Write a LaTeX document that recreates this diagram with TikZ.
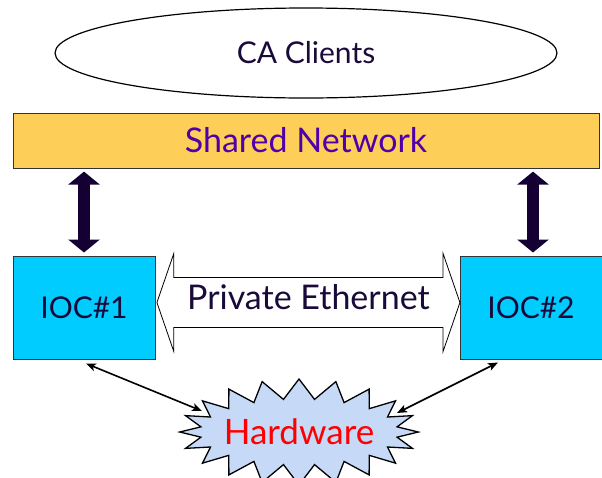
\documentclass[tikz,border=0pt]{standalone}
\usepackage{fontspec}
\setmainfont{Lato}
\usetikzlibrary{shapes,arrows,arrows.meta,positioning}
\definecolor{netfill}{RGB}{253,207,88}
\definecolor{netink}{RGB}{80,0,170}
\definecolor{iocfill}{RGB}{0,204,255}
\definecolor{ink}{RGB}{26,10,58}
\definecolor{hwfill}{RGB}{198,218,248}
\definecolor{fatink}{RGB}{20,0,50}
\tikzset{
oval/.style = {draw, ellipse, fill=white, line width=1.2pt, text=ink, inner sep=0pt, minimum width=502pt, minimum height=90pt, font=\fontsize{30}{30}\selectfont},
bus/.style = {draw=black!80, fill=netfill, rectangle, line width=1pt, text=netink, minimum width=586pt, minimum height=55pt, font=\fontsize{34}{34}\selectfont},
ioc/.style = {draw=black!80, fill=iocfill, rectangle, line width=1pt, text=ink, minimum width=142pt, minimum height=103pt, font=\fontsize{30}{30}\selectfont},
pipe/.style = {draw, double arrow, fill=white, line width=0.8pt, text=ink, inner sep=2pt, text depth=12pt, minimum height=303pt, minimum width=98pt, double arrow head extend=20pt, double arrow tip angle=142, font=\fontsize{34}{34}\selectfont},
hw/.style = {draw, starburst, starburst points=20, random starburst=0, starburst point height=20pt, fill=hwfill, line width=1.3pt, text=red, inner ysep=0pt, inner xsep=-5pt, minimum width=238pt, minimum height=106pt, font=\fontsize{35}{35}\selectfont},
fat/.style = {line width=12pt, fatink, {Triangle[width=31pt,length=13pt]}-{Triangle[width=31pt,length=13pt]}, shorten <=3pt, shorten >=3pt},
link/.style = {{Stealth[length=10pt,width=8pt,inset=2.5pt]}-{Stealth[length=10pt,width=8pt,inset=2.5pt]}, line width=1.6pt}
}
\begin{document}
\begin{tikzpicture}[x=1pt, y=-1pt]
    \useasboundingbox (0,0) rectangle (602,477);
    \node[oval] (clients) at (306,53) {CA Clients};
    \node[bus, below=14pt of clients] (net) {Shared Network};
    \node[ioc] (ioc1) at (84,307.5) {IOC\#1};
    \node[ioc, right=304pt of ioc1] (ioc2) {IOC\#2};
    \node[pipe, right=1pt of ioc1, yshift=5pt] (eth) {Private Ethernet};
    \node[hw] (hw) at (299,432) {Hardware};
    \draw[fat] (ioc1.north) -- (ioc1.north |- net.south);
    \draw[fat] ([xshift=2pt]ioc2.north) -- ([xshift=2pt]ioc2.north |- net.south);
    \draw[link] ([shift={(2,4)}]ioc1.south) -- ([shift={(-97,-21)}]hw.center);
    \draw[link] ([shift={(-33,3)}]ioc2.south) -- ([shift={(98,-19)}]hw.center);
\end{tikzpicture}
\end{document}
